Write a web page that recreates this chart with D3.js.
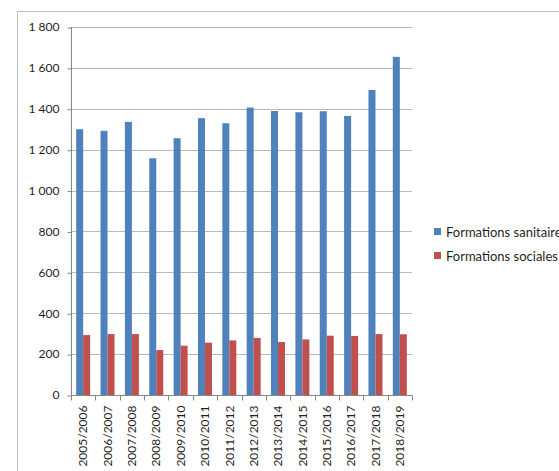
<!DOCTYPE html>
<html>
<head>
<meta charset="utf-8">
<script src="https://cdn.jsdelivr.net/npm/d3@7"></script>
<style>
  body { margin: 0; background: #fff; }
  svg { display: block; font-family: Lato, "Open Sans", sans-serif; }
</style>
</head>
<body>
<script>
// donnees
var annees = ["2005/2006", "2006/2007", "2007/2008", "2008/2009", "2009/2010", "2010/2011", "2011/2012",
  "2012/2013", "2013/2014", "2014/2015", "2015/2016", "2016/2017", "2017/2018", "2018/2019"]
var sanitaires = [1300, 1292, 1336, 1158, 1256, 1354, 1329, 1406, 1389, 1383, 1388, 1365, 1492, 1654]
var sociales = [293, 298, 298, 220, 241, 256, 267, 279, 259, 272, 290, 289, 298, 297]
var seriesNames = ["Formations sanitaires", "Formations sociales"]
var yTicks = [0, 200, 400, 600, 800, 1000, 1200, 1400, 1600, 1800]

var couleurs = ["#4f81bd", "#c0504d"]
var W = 559, H = 471
var plot = { left: 71, right: 412, top: 27, bottom: 395 }

var svg = d3.select("body").append("svg").attr("width", W).attr("height", H)

// cadre du graphique (sort de la fenetre a droite et en bas)
svg.append("rect")
  .attr("x", 17.5).attr("y", 11.5)
  .attr("width", 600).attr("height", 500)
  .attr("fill", "none").attr("stroke", "#bfbfbf")

var x = d3.scaleBand().domain(annees).range([plot.left, plot.right])
var xs = d3.scaleBand().domain(seriesNames).range([0, x.bandwidth()]).paddingOuter(0.74)
var y = d3.scaleLinear().domain([0, 1800]).range([plot.bottom, plot.top])

var fr = d3.formatLocale({ decimal: ",", thousands: "\u00a0", grouping: [3], currency: ["", " €"] })

// grille
svg.append("g").selectAll("line").data(yTicks.slice(1)).enter().append("line")
  .attr("x1", plot.left).attr("x2", plot.right)
  .attr("y1", function(d) { return Math.round(y(d)) + 0.5 })
  .attr("y2", function(d) { return Math.round(y(d)) + 0.5 })
  .attr("stroke", "#b8b8b8")

// barres
var data = annees.map(function(a, i) {
  return { annee: a, vals: [sanitaires[i], sociales[i]] }
})
var groupes = svg.append("g").selectAll("g").data(data).enter().append("g")
  .attr("transform", function(d) { return "translate(" + x(d.annee) + ",0)" })
groupes.selectAll("rect").data(function(d) {
  return d.vals.map(function(v, j) { return { serie: seriesNames[j], v: v, j: j } })
}).enter().append("rect")
  .attr("x", function(d) { return xs(d.serie) })
  .attr("y", function(d) { return y(d.v) })
  .attr("width", xs.bandwidth())
  .attr("height", function(d) { return y(0) - y(d.v) })
  .attr("fill", function(d) { return couleurs[d.j] })

// axe y
var yAxis = svg.append("g")
  .attr("transform", "translate(" + (plot.left + 0.5) + ",0)")
  .call(d3.axisLeft(y).tickValues(yTicks).tickSize(4).tickPadding(8).tickFormat(fr.format(",d")))
yAxis.selectAll("line").attr("stroke", "#868686")
  .attr("transform", function() { return "translate(0,0.5)" })
yAxis.select(".domain").attr("stroke", "#868686").attr("d", "M0," + plot.top + "V" + (plot.bottom + 0.5))
yAxis.selectAll("text").attr("fill", "#1f1f1f").style("font-size", "12px").style("font-family", "Lato")

// axe x
var xAxis = svg.append("g")
  .attr("transform", "translate(0," + (plot.bottom + 0.5) + ")")
  .call(d3.axisBottom(x).tickSize(0).tickPadding(0))
xAxis.select(".domain").attr("stroke", "#868686").attr("d", "M" + plot.left + ",0H" + plot.right)
xAxis.selectAll(".tick text")
  .attr("fill", "#1f1f1f").style("font-size", "12px").style("font-family", "Lato")
  .attr("transform", "rotate(-90)")
  .attr("text-anchor", "end")
  .attr("x", -10).attr("y", 0).attr("dy", "0.35em")
// petites graduations entre categories
xAxis.append("g").selectAll("line").data(annees.concat(["fin"])).enter().append("line")
  .attr("x1", function(d, i) { return Math.round(plot.left + i * x.step()) + 0.5 })
  .attr("x2", function(d, i) { return Math.round(plot.left + i * x.step()) + 0.5 })
  .attr("y1", 0).attr("y2", 5).attr("stroke", "#868686")

// legende
var leg = svg.append("g").attr("transform", "translate(434,228)")
var items = leg.selectAll("g").data(seriesNames).enter().append("g")
  .attr("transform", function(d, i) { return "translate(0," + i * 24 + ")" })
items.append("rect").attr("width", 7).attr("height", 7)
  .attr("fill", function(d, i) { return couleurs[i] })
items.append("text").attr("x", 12).attr("y", 4).attr("dy", "0.35em")
  .attr("fill", "#1f1f1f").style("font-size", "13px")
  .text(function(d) { return d })
</script>
</body>
</html>
